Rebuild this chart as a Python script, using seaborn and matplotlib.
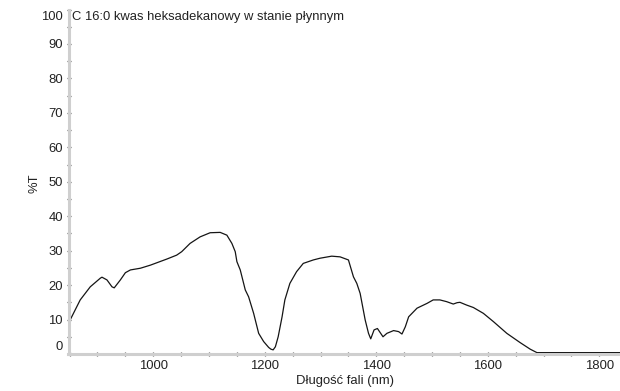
import matplotlib
matplotlib.use("Agg")
import matplotlib.pyplot as plt
from matplotlib.transforms import ScaledTranslation
from matplotlib.ticker import MultipleLocator
import seaborn as sns
import pandas as pd

# ---- data ----
wavelength_nm = [851, 869, 887, 905, 908, 917, 926, 930, 941, 950, 959, 977, 995,
                 1010, 1025, 1042, 1051, 1066, 1084, 1102, 1120, 1132, 1141, 1147,
                 1150, 1156, 1165, 1171, 1180, 1189, 1198, 1207, 1211, 1215, 1219,
                 1224, 1231, 1236, 1245, 1257, 1269, 1287, 1299, 1320, 1335, 1350,
                 1359, 1365, 1371, 1380, 1386, 1390, 1396, 1402, 1412, 1419, 1431,
                 1440, 1446, 1452, 1458, 1473, 1491, 1502, 1514, 1526, 1538, 1545,
                 1550, 1562, 1574, 1592, 1610, 1634, 1658, 1676, 1688, 1700, 1750,
                 1800, 1837]
transmittance = [9.9, 15.7, 19.5, 22.0, 22.3, 21.5, 19.5, 19.2, 21.5, 23.6, 24.4,
                 24.9, 25.8, 26.7, 27.6, 28.7, 29.7, 32.1, 34.0, 35.2, 35.3, 34.5,
                 32.1, 29.7, 26.8, 24.4, 18.6, 16.6, 11.8, 6.0, 3.6, 1.9, 1.4, 1.2,
                 2.1, 5.0, 10.8, 15.7, 20.5, 23.9, 26.3, 27.3, 27.8, 28.4, 28.2,
                 27.3, 22.4, 20.5, 17.6, 9.9, 6.0, 4.4, 7.0, 7.4, 5.0, 6.0, 6.8,
                 6.5, 5.8, 7.9, 10.8, 13.3, 14.7, 15.7, 15.7, 15.2, 14.5, 14.9,
                 15.0, 14.2, 13.5, 11.8, 9.4, 6.0, 3.3, 1.4, 0.4, 0.4, 0.4, 0.4, 0.4]
x_ticks = [1000, 1200, 1400, 1600, 1800]
y_ticks = [0, 10, 20, 30, 40, 50, 60, 70, 80, 90, 100]
title_text = "C 16:0 kwas heksadekanowy w stanie płynnym"
x_label = "Długość fali (nm)"
y_label = "%T"

df = pd.DataFrame({"nm": wavelength_nm, "T": transmittance})

sns.set_style("white")
plt.rcParams["font.family"] = ["Liberation Sans", "DejaVu Sans"]

W, H = 620, 391
FS = 9.4
fig = plt.figure(figsize=(W / 100, H / 100), dpi=100)
ax = fig.add_axes([68.5 / W, (H - 354) / H, (W - 68.5) / W, (354 - 9.5) / H])

sns.lineplot(data=df, x="nm", y="T", ax=ax, color="#151515", linewidth=0.9)

ax.set_xlim(848, 1837)
ax.set_ylim(0, 100)
ax.set_xticks(x_ticks)
ax.set_yticks(y_ticks)
ax.xaxis.set_minor_locator(MultipleLocator(50))
ax.yaxis.set_minor_locator(MultipleLocator(5))
ax.set_xlabel("")
ax.set_ylabel("")

for s in ["top", "right"]:
    ax.spines[s].set_visible(False)
for s in ["left", "bottom"]:
    ax.spines[s].set_color("#cfcfcf")
    ax.spines[s].set_linewidth(2.2)

ax.tick_params(which="both", bottom=True, left=True, direction="inout", length=3,
               width=0.9, color="#555555", labelsize=FS, labelcolor="#222222", pad=2.5)

# shift the end labels inward like the original software
yl = ax.get_yticklabels()
yl[0].set_transform(yl[0].get_transform() + ScaledTranslation(0, 8 / 100, fig.dpi_scale_trans))
yl[-1].set_transform(yl[-1].get_transform() + ScaledTranslation(0, -6.5 / 100, fig.dpi_scale_trans))

fig.text(72 / W, 1 - 17 / H, title_text, fontsize=FS, color="#222222", ha="left", va="center")
fig.text(35 / W, 1 - 183 / H, y_label, fontsize=FS, color="#222222", rotation=90,
         ha="center", va="center")
fig.text(345 / W, 1 - 381 / H, x_label, fontsize=FS, color="#222222", ha="center", va="center")

fig.savefig("out.png", dpi=100)
